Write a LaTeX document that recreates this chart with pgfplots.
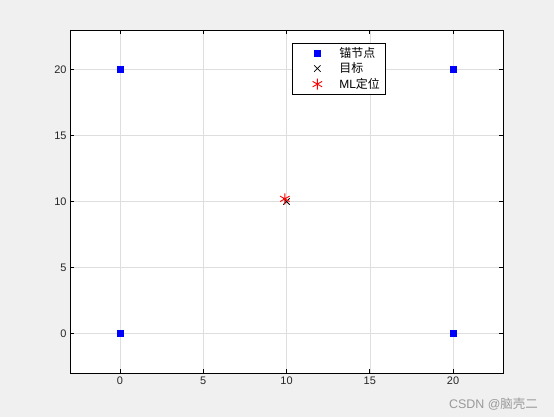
\documentclass[border=0pt]{standalone}
\usepackage{pgfplots}
\pgfplotsset{compat=1.18}
\usepackage{fontspec}
\setmainfont{Liberation Sans}
\newfontfamily\cjk{Noto Sans CJK SC}
\definecolor{figbg}{RGB}{240,240,240}
\definecolor{gridc}{RGB}{222,222,222}
\definecolor{mblue}{RGB}{0,0,255}
\begin{document}
\begin{tikzpicture}[x=1bp,y=1bp]
\fill[figbg] (0,0) rectangle (554,417);
\begin{axis}[
  at={(70bp,44bp)}, anchor=south west,
  scale only axis, width=433bp, height=343bp,
  xmin=-3, xmax=23, ymin=-3, ymax=23,
  xtick={0,5,10,15,20}, ytick={0,5,10,15,20},
  axis background/.style={fill=white},
  grid=major, major grid style={gridc, line width=0.5pt},
  tick align=inside, tick pos=both,
  major tick length=4bp,
  axis line style={black, line width=0.6pt},
  tick style={black, line width=0.6pt},
  tick label style={font=\fontsize{11}{12}\selectfont, text=black!85},
  /pgf/number format/assume math mode=true,
  legend style={at={(0.513,0.962)}, anchor=north west, draw=black, line width=0.5pt,
    font=\fontsize{12}{13}\selectfont, row sep=0pt, inner xsep=3pt, inner ysep=2pt},
  legend cell align=left,
  legend image code/.code={\path[draw=none,fill=none] (0,-3bp) rectangle (30bp,3bp); \draw[#1] plot[only marks] coordinates {(22bp,0bp)};},
]
\addplot[only marks, mark=square*, mark size=3bp, color=mblue] coordinates {(0,0) (0,20) (20,0) (20,20)};
\addlegendentry{\hspace{12bp}{\cjk 锚节点}}
\addplot[only marks, mark=x, mark size=4.5bp, color=black, line width=0.8pt] coordinates {(10,10)};
\addlegendentry{\hspace{12bp}{\cjk 目标}}
\addplot[only marks, mark=asterisk, mark size=5.5bp, color=red, line width=0.9pt] coordinates {(9.9,10.2)};
\addlegendentry{\hspace{12bp}ML{\cjk 定位}}
\end{axis}
\node[anchor=base east, text=black!40, font=\fontsize{12.5}{14}\selectfont, inner sep=0pt] at (538,9) {CSDN @{\cjk 脑壳二}};
\end{tikzpicture}
\end{document}
